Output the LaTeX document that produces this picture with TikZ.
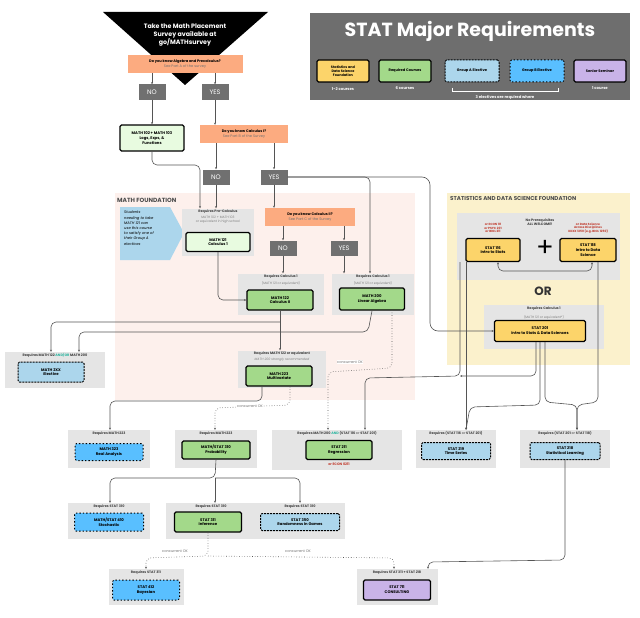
\documentclass[tikz,border=0pt]{standalone}
\usepackage{fontspec}
\setmainfont{Poppins}
\usetikzlibrary{arrows.meta,positioning}
\definecolor{cyel}{HTML}{FCD46A}
\definecolor{cgrn}{HTML}{A3D98A}
\definecolor{clgrn}{HTML}{E8FBE0}
\definecolor{clb}{HTML}{ACD6EC}
\definecolor{cbb}{HTML}{59BFFF}
\definecolor{cpur}{HTML}{C9B3E8}
\definecolor{corg}{HTML}{FCAB80}
\definecolor{cgb}{HTML}{E5E5E5}
\definecolor{cny}{HTML}{707070}
\definecolor{cpink}{HTML}{FDF0EC}
\definecolor{cyreg}{HTML}{FBF1CC}
\definecolor{cleg}{HTML}{6E6E6E}
\definecolor{cred}{HTML}{C0392B}
\definecolor{cteal}{HTML}{2BB5A0}
\definecolor{cln}{HTML}{555555}
\tikzset{
 x=1pt,y=-1pt,
 gb/.style={fill=cgb,draw=none,inner sep=0},
 lab/.style={font=\fontsize{3.4}{4}\selectfont\bfseries,text=black!75,inner sep=0,align=center},
 sub/.style={font=\fontsize{3.2}{3.9}\selectfont,text=black!50,inner sep=0,align=center},
 crs/.style={draw=black,line width=1.4pt,rounded corners=1.5pt,align=center,font=\fontsize{3.8}{4.8}\selectfont\bfseries,inner sep=0},
 req/.style={crs,fill=cgrn},
 reql/.style={crs,fill=clgrn},
 fnd/.style={crs,fill=cyel},
 ga/.style={crs,fill=clb,dashed,dash pattern=on 2pt off 1pt,line width=1pt},
 gbb/.style={crs,fill=cbb,dotted,line width=1pt},
 sen/.style={crs,fill=cpur},
 q/.style={fill=corg,inner sep=0,align=center,font=\fontsize{3.6}{4.8}\selectfont},
 yn/.style={fill=cny,text=white,inner sep=0,minimum width=27,minimum height=15,font=\fontsize{6.5}{7}\selectfont},
 ar/.style={draw=cln,line width=0.6pt,-{Stealth[length=2.2pt,width=2pt]},rounded corners=5pt},
 da/.style={ar,dotted},
 cok/.style={font=\fontsize{3.6}{4}\selectfont,text=black!55,fill=white,inner sep=0.5pt},
}
\newcommand{\gbox}[6]{% name, cx, cy, w, h, label
 \node[gb,minimum width=#4,minimum height=#5] (#1) at (#2,#3) {};
 \node[lab,anchor=north] at ([yshift=-1.5pt]#1.north) {#6};}
\begin{document}
\begin{tikzpicture}
\useasboundingbox (0,0) rectangle (640,618);
% regions
\fill[cpink] (115,193) rectangle (415,400);
\node[anchor=north west,font=\fontsize{6}{7}\selectfont\bfseries,text=black!70,inner sep=0] (mf) at (117,198) {MATH FOUNDATION};
\fill[cyreg] (447,193) rectangle (630,365);
\node[anchor=north west,font=\fontsize{5.6}{7}\selectfont\bfseries,text=black!70,inner sep=0] (sf) at (450,196) {STATISTICS AND DATA SCIENCE FOUNDATION};
% legend
\fill[cleg] (310,13) rectangle (630,100);
\node[font=\fontsize{19}{22}\selectfont\bfseries,text=white] (lt) at (470,31) {STAT Major Requirements};
\node[fnd,minimum width=52,minimum height=22,font=\fontsize{3.4}{4.3}\selectfont\bfseries] (l1) at (343,71) {Statistics and\\Data Science\\Foundation};
\node[req,minimum width=52,minimum height=22,font=\fontsize{3.6}{4.3}\selectfont\bfseries] (l2) at (405,71) {Required Courses};
\node[ga,minimum width=54,minimum height=22,font=\fontsize{3.6}{4.3}\selectfont\bfseries] (l3) at (472,71) {Group A Elective};
\node[gbb,minimum width=54,minimum height=22,font=\fontsize{3.6}{4.3}\selectfont\bfseries] (l4) at (537,71) {Group B Elective};
\node[sen,minimum width=52,minimum height=22,font=\fontsize{3.6}{4.3}\selectfont\bfseries] (l5) at (600,71) {Senior Seminar};
\node[font=\fontsize{3.8}{4.5}\selectfont\bfseries,text=white,inner sep=0] (c1) at (343,89) {1-2 courses};
\node[font=\fontsize{3.8}{4.5}\selectfont\bfseries,text=white,inner sep=0] (c2) at (405,88) {6 courses};
\node[font=\fontsize{3.8}{4.5}\selectfont\bfseries,text=white,inner sep=0] (c5) at (600,88) {1 course};
\draw[white,line width=0.5pt] (452,88) -- (452,91) -- (558,91) -- (558,88);
\node[font=\fontsize{3.8}{4.7}\selectfont\bfseries,text=white,align=center,inner sep=0] (c3) at (505,100) {3 electives are required where\\at least 1 is Group B};
% top triangle
\fill[black] (103,12) -- (268,12) -- (185,85) -- cycle;
\node[text=white,font=\fontsize{6.3}{8}\selectfont\bfseries,align=center] (tt) at (185,35) {Take the Math Placement\\Survey available at\\go/MATHsurvey};
\node[q,minimum width=115,minimum height=18] (qa) at (185,64) {\textbf{Do you know Algebra and Precalculus?}\\\textcolor{black!55}{See Part A of the survey}};
\node[yn] (no1) at (152,92) {NO};
\node[yn] (yes1) at (215,92) {YES};
\node[reql,minimum width=64,minimum height=26] (m102) at (152,138) {MATH 102 + MATH 103\\Logs, Exps, \&\\Functions};
\node[q,minimum width=88,minimum height=18] (qb) at (244,134) {\textbf{Do you know Calculus I?}\\\textcolor{black!55}{See Part B of the Survey}};
\node[yn] (no2) at (216,177) {NO};
\node[yn] (yes2) at (274,177) {YES};
% callout
\fill[clb] (120,207) -- (170,207) -- (184,233) -- (170,260) -- (120,260) -- cycle;
\node[font=\fontsize{3.7}{5.2}\selectfont\itshape,align=left,anchor=north west,inner sep=0] (co) at (124,211) {Students\\needing to take\\MATH 121 can\\use this course\\to satisfy one of\\their Group A\\electives};
% math foundation
\gbox{g121}{218}{232}{72}{47}{Requires Pre-Calculus}
\node[sub] (s121) at (218,220) {MATH 102 + MATH 103\\or equivalent in high school};
\node[reql,minimum width=64,minimum height=19] (m121) at (218,242) {MATH 121\\Calculus 1};
\node[q,minimum width=90,minimum height=18] (qc) at (310,217) {\textbf{Do you know Calculus II?}\\\textcolor{black!55}{See Part C of the Survey}};
\node[yn] (no3) at (283,248) {NO};
\node[yn] (yes3) at (344,248) {YES};
\gbox{g122}{281}{294}{86}{41}{Requires Calculus 1}
\node[sub] (s122) at (281,283) {(MATH 121 or equivalent)};
\node[req,minimum width=66,minimum height=20] (m122) at (280,300) {MATH 122\\Calculus II};
\gbox{g200}{373}{294}{82}{41}{Requires Calculus 1}
\node[sub] (s200) at (373,283) {(MATH 121 or equivalent)};
\node[req,minimum width=65,minimum height=22] (m200) at (372,299) {MATH 200\\Linear Algebra};
\gbox{g223}{282}{369}{88}{37}{Requires MATH 122 or equivalent}
\node[sub,font=\fontsize{3.2}{3.9}\selectfont\itshape] (s223) at (282,360) {MATH 200 strongly recommended};
\node[req,minimum width=66,minimum height=20] (m223) at (279,376) {MATH 223\\Multivariate};
\gbox{g2xx}{55}{370}{100}{36}{Requires MATH 122 \textcolor{cteal}{AND/OR} MATH 200}
\node[ga,minimum width=66,minimum height=20] (m2xx) at (51,372) {MATH 2XX\\Elective};
% stats foundation
\fill[cgb] (457,213) rectangle (620,280);
\node[lab,align=center] (np) at (540,222) {No Prerequisites\\ALL WELCOME!};
\node[font=\fontsize{3}{3.7}\selectfont\bfseries,text=cred,align=center,inner sep=0] (r116) at (493,228) {or ECON 111\\or PSYC 201\\or BIOL 211};
\node[font=\fontsize{3}{3.7}\selectfont\bfseries,text=cred,align=center,inner sep=0] (r118) at (588,228) {or Data Science\\Across Disciplines\\XXXX 1250 (e.g. BIOL 1250)};
\node[fnd,minimum width=54,minimum height=23] (s116) at (493,250) {STAT 116\\Intro to Stats};
\node[fnd,minimum width=56,minimum height=23] (s118) at (588,250) {STAT 118\\Intro to Data\\Science};
\node[font=\fontsize{26}{26}\selectfont,inner sep=0] (plus) at (545,248) {+};
\node[font=\fontsize{12}{12}\selectfont\bfseries,text=black!80] (or) at (543,291) {OR};
\gbox{g201}{544}{327}{120}{44}{Requires Calculus 1}
\node[sub] (sb201) at (544,317) {(MATH 121 or equivalent*)};
\node[fnd,minimum width=91,minimum height=21] (s201) at (540,331) {STAT 201\\Intro to Stats \& Data Sciences};
% row 3
\gbox{g323}{109}{449}{82}{38}{Requires MATH 223}
\node[gbb,minimum width=68,minimum height=17] (m323) at (109,452) {MATH 323\\Real Analysis};
\gbox{g310}{216}{449}{82}{38}{Requires MATH 223}
\node[req,minimum width=68,minimum height=18] (m310) at (216,450) {MATH/STAT 310\\Probability};
\gbox{g211}{337}{450}{130}{40}{Requires MATH 200 \textcolor{cteal}{AND} (STAT 116 \textcolor{black!50}{or} STAT 201)}
\node[req,minimum width=66,minimum height=19] (s211) at (339,450) {STAT 211\\Regression};
\node[font=\fontsize{3.4}{4}\selectfont\bfseries,text=cred,inner sep=0] (e211) at (339,464) {or ECON 0211};
\gbox{g219}{456}{449}{80}{38}{Requires (STAT 116 \textcolor{black!50}{or} STAT 201)}
\node[ga,minimum width=69,minimum height=17] (s219) at (456,451) {STAT 219\\Time Series};
\gbox{g218}{565}{449}{90}{38}{Requires (STAT 201 \textcolor{black!50}{or} STAT 118)}
\node[ga,minimum width=70,minimum height=17] (s218) at (565,451) {STAT 218\\Statistical Learning};
% row 4
\gbox{g410}{109}{521}{82}{36}{Requires STAT 310}
\node[gbb,minimum width=69,minimum height=18] (s410) at (109,522) {MATH/STAT 410\\Stochastic};
\gbox{g311}{211}{521}{90}{36}{Requires STAT 310}
\node[req,minimum width=67,minimum height=20] (s311) at (208,522) {STAT 311\\Inference};
\gbox{g350}{300}{521}{89}{36}{Requires STAT 310}
\node[ga,minimum width=79,minimum height=17] (s350) at (300,522) {STAT 350\\Randomness in Games};
% row 5
\gbox{g412}{146}{587}{75}{36}{Requires STAT 311}
\node[gbb,minimum width=67,minimum height=20] (s412) at (146,590) {STAT 412\\Bayesian};
\gbox{g711}{397}{587}{81}{36}{Requires STAT 311 + STAT 218}
\node[sen,minimum width=67,minimum height=20] (s711) at (397,590) {STAT 711\\CONSULTING};
% ---- connectors
\draw[ar] (qa.south -| no1) -- (no1.north);
\draw[ar] (qa.south -| yes1) -- (yes1.north);
\draw[ar] (no1) -- (m102);
\draw[ar] (yes1.south) -- (qb.north -| yes1);
\draw[ar] (qb.south -| no2) -- (no2.north);
\draw[ar] (qb.south -| yes2) -- (yes2.north);
\draw[ar] (m102.south) -- (152,165) -- (200,165) -- (g121.north -| 200,0);
\draw[ar] (no2.south) -- (g121.north -| no2);
\draw[ar] (yes2.south) -- (qc.north -| yes2);
\draw[ar] (yes2.east) -- (370,177) -- (g200.north -| 370,0);
\draw[ar,rounded corners=8pt] (yes2.east) -- (430,177) -- (430,331) -- (s201.west);
\draw[ar] (qc.south -| no3) -- (no3.north);
\draw[ar] (qc.south -| yes3) -- (yes3.north);
\draw[ar] (no3.south) -- (g122.north -| no3);
\draw[ar] (yes3.south) -- (g200.north -| yes3);
\draw[ar] (m121.south) -- (218,300) -- (m122.west);
\draw[ar] (m122.south) -- (g223.north -| m122);
\draw[ar] (280,322) -- (51,322) -- (g2xx.north -| 51,0);
\draw[ar] (m200.south) -- (368,332) -- (79,332) -- (g2xx.north -| 79,0);
\draw[da] (392,310) -- (392,368) -- (328,372) -- (g211.north -| 328,0);
\node[cok] (ok1) at (350,362) {concurrent OK};
\draw[ar] (m223.south -| 262,0) -- (262,401) -- (110,401) -- (g323.north -| 110,0);
\draw[da] (m223.south -| 290,0) -- (290,405) -- (215,408) -- (g310.north -| 215,0);
\node[cok] (ok2) at (250,406) {concurrent OK};
\draw[ar] (s116.south -| 460,0) -- (460,376) -- (365,378) -- (g211.north -| 365,0);
\draw[ar] (s116.south -| 466,0) -- (g219.north -| 466,0);
\draw[ar] (s201.south -| 536,0) -- (536,376) -- (460,376);
\draw[ar] (s201.south -| 540,0) -- (540,405) -- (470,407) -- (g219.north -| 466,0);
\draw[ar] (s201.south -| 545,0) -- (545,402) -- (577,405) -- (g218.north -| 577,0);
\draw[ar] (s118.south -| 598,0) -- (598,402) -- (577,405) -- (g218.north -| 577,0);
\draw[ar,{Stealth[length=2.2pt,width=2pt]}-{Stealth[length=2.2pt,width=2pt]}] (s116.south -| 498,0) -- (498,271) -- (592,271) -- (s118.south -| 592,0);
\draw[ar] (m310.south) -- (215,478) -- (110,478) -- (g410.north -| 110,0);
\draw[ar] (215,478) -- (g311.north -| 215,0);
\draw[ar] (215,478) -- (300,478) -- (g350.north -| 300,0);
\draw[da] (s311.south) -- (208,556) -- (146,558) -- (g412.north -| 146,0);
\draw[da] (208,556) -- (394,558) -- (g711.north -| 394,0);
\node[cok] (ok3) at (175,551) {concurrent OK};
\node[cok] (ok4) at (298,551) {concurrent OK};
\draw[ar] (s218.south) -- (565,560) -- (428,562) -- (g711.north -| 428,0);
\end{tikzpicture}
\end{document}
